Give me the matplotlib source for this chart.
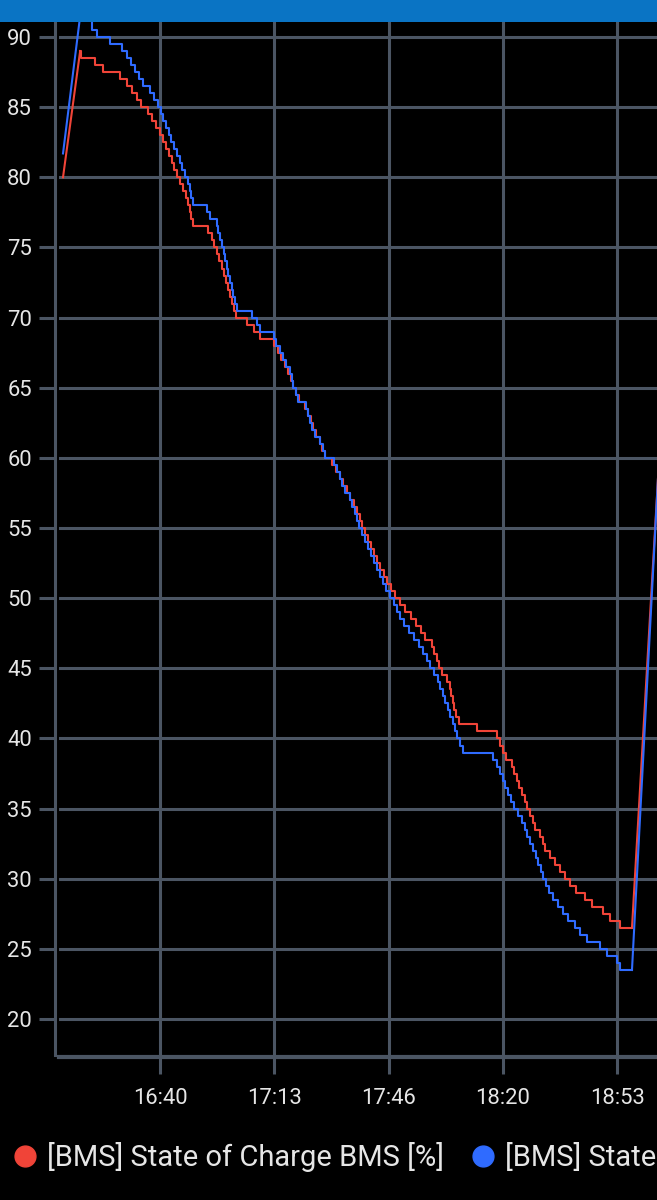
import numpy as np
import matplotlib
matplotlib.use("Agg")
import matplotlib.pyplot as plt
from matplotlib.lines import Line2D
from matplotlib.patches import Rectangle

# ---- data (time in minutes after 16:00, state of charge in %) ----
red_t = [11.7, 16.7, 17.0, 21.0, 23.4, 28.3, 30.4, 31.8, 33.3, 34.5,
         36.5, 37.7, 38.8, 40.0, 40.9, 41.8, 42.6, 43.5, 44.1, 45.0,
         45.8, 46.7, 47.6, 48.2, 48.8, 49.0, 49.6, 54.0, 55.2, 55.8,
         56.6, 57.2, 58.1, 58.7, 59.3, 59.8, 60.4, 61.0, 61.6, 62.2,
         65.4, 67.4, 69.2, 73.3, 74.4, 75.3, 76.5, 77.3, 78.2, 78.8,
         79.7, 80.6, 82.3, 83.2, 84.1, 84.6, 85.5, 86.7, 87.3, 88.1,
         90.2, 91.3, 92.5, 93.4, 94.6, 95.4, 96.6, 97.5, 98.4, 98.9,
         99.8, 100.7, 101.6, 102.4, 103.3, 104.2, 105.4, 106.2, 107.4, 108.6,
         110.0, 111.5, 113.2, 114.7, 116.1, 117.3, 119.4, 119.9, 120.8, 121.4,
         122.3, 123.7, 124.6, 124.9, 125.5, 125.8, 126.4, 127.2, 132.5, 138.3,
         139.2, 140.1, 141.0, 142.7, 143.3, 144.2, 144.7, 145.6, 146.5, 147.1,
         148.0, 148.8, 149.4, 150.9, 151.7, 152.3, 153.8, 155.2, 156.7, 158.2,
         159.6, 161.4, 164.0, 166.0, 169.3, 171.3, 174.2, 177.7, 185.3]
red_v = [80.0, 89.0, 88.5, 88.0, 87.5, 87.0, 86.5, 86.0, 85.5, 85.0,
         84.5, 84.0, 83.5, 83.0, 82.5, 82.0, 81.5, 81.0, 80.5, 80.0,
         79.5, 79.0, 78.5, 78.0, 77.5, 77.0, 76.5, 76.0, 75.5, 75.0,
         74.5, 74.0, 73.5, 73.0, 72.5, 72.0, 71.5, 71.0, 70.5, 70.0,
         69.5, 69.0, 68.5, 68.0, 67.5, 67.0, 66.5, 66.0, 65.5, 65.0,
         64.5, 64.0, 63.5, 63.0, 62.5, 62.0, 61.5, 61.0, 60.5, 60.0,
         59.5, 59.0, 58.5, 58.0, 57.5, 57.0, 56.5, 56.0, 55.5, 55.0,
         54.5, 54.0, 53.5, 53.0, 52.5, 52.0, 51.5, 51.0, 50.5, 50.0,
         49.5, 49.0, 48.5, 48.0, 47.5, 47.0, 46.5, 46.0, 45.5, 45.0,
         44.5, 44.0, 43.5, 43.0, 42.5, 42.0, 41.5, 41.0, 40.5, 40.0,
         39.5, 39.0, 38.5, 38.0, 37.5, 37.0, 36.5, 36.0, 35.5, 35.0,
         34.5, 34.0, 33.5, 33.0, 32.5, 32.0, 31.5, 31.0, 30.5, 30.0,
         29.5, 29.0, 28.5, 28.0, 27.5, 27.0, 26.5, 26.5, 58.6]

blue_t = [11.7, 16.7, 20.2, 21.6, 25.4, 28.9, 30.4, 31.5, 32.7, 33.9,
          35.0, 37.1, 38.2, 39.4, 40.3, 40.9, 41.8, 42.6, 43.2, 44.1,
          45.0, 45.8, 46.4, 47.3, 48.2, 48.8, 49.0, 49.6, 53.7, 54.6,
          56.6, 56.9, 57.5, 58.1, 58.7, 59.0, 59.5, 59.8, 60.4, 61.0,
          61.3, 61.9, 62.5, 66.8, 68.3, 69.2, 73.3, 73.8, 75.0, 75.9,
          76.8, 77.9, 78.5, 78.8, 79.7, 80.3, 82.6, 83.2, 83.8, 84.3,
          85.2, 86.7, 87.6, 88.1, 90.8, 91.6, 92.5, 93.1, 94.0, 95.4,
          96.0, 96.9, 97.5, 98.1, 98.9, 99.8, 100.7, 101.6, 102.4, 103.3,
          104.2, 105.1, 105.9, 107.1, 108.3, 109.1, 110.0, 111.2, 112.6, 114.1,
          115.6, 116.7, 117.9, 118.8, 119.9, 121.1, 121.7, 122.6, 123.2, 124.0,
          124.6, 125.5, 126.1, 126.7, 127.5, 128.4, 137.2, 138.3, 139.2, 140.1,
          140.7, 141.5, 142.4, 143.3, 144.5, 145.6, 146.5, 147.1, 148.0, 148.8,
          149.7, 150.3, 151.2, 151.7, 152.6, 153.5, 154.7, 156.1, 157.6, 159.0,
          161.1, 162.5, 164.6, 168.4, 170.4, 173.3, 174.2, 177.7, 185.3]
blue_v = [81.7, 91.5, 90.5, 90.0, 89.5, 89.0, 88.5, 88.0, 87.5, 87.0,
          86.5, 86.0, 85.5, 85.0, 84.5, 84.0, 83.5, 83.0, 82.5, 82.0,
          81.5, 81.0, 80.5, 80.0, 79.5, 79.0, 78.5, 78.0, 77.5, 77.0,
          76.5, 76.0, 75.5, 75.0, 74.5, 74.0, 73.5, 73.0, 72.5, 72.0,
          71.5, 71.0, 70.5, 70.0, 69.5, 69.0, 68.5, 68.0, 67.5, 67.0,
          66.5, 66.0, 65.5, 65.0, 64.5, 64.0, 63.5, 63.0, 62.5, 62.0,
          61.5, 61.0, 60.5, 60.0, 59.5, 59.0, 58.5, 58.0, 57.5, 57.0,
          56.5, 56.0, 55.5, 55.0, 54.5, 54.0, 53.5, 53.0, 52.5, 52.0,
          51.5, 51.0, 50.5, 50.0, 49.5, 49.0, 48.5, 48.0, 47.5, 47.0,
          46.5, 46.0, 45.5, 45.0, 44.5, 44.0, 43.5, 43.0, 42.5, 42.0,
          41.5, 41.0, 40.5, 40.0, 39.5, 39.0, 38.5, 38.0, 37.5, 37.0,
          36.5, 36.0, 35.5, 35.0, 34.5, 34.0, 33.5, 33.0, 32.5, 32.0,
          31.5, 31.0, 30.5, 30.0, 29.5, 29.0, 28.5, 28.0, 27.5, 27.0,
          26.5, 26.0, 25.5, 25.0, 24.5, 24.0, 23.5, 23.5, 58.6]

series_labels = ["[BMS] State of Charge BMS [%]", "[BMS] State of Charge [%]"]
x_tick_minutes = [40, 73.333, 106.667, 140, 173.333]
x_tick_labels = ["16:40", "17:13", "17:46", "18:20", "18:53"]
y_ticks = [20, 25, 30, 35, 40, 45, 50, 55, 60, 65, 70, 75, 80, 85, 90]

# ---- style ----
BG = "#000000"
GRID = "#4b5563"
TXT = "#e6e6e6"
RED = "#f04438"
BLUE = "#2f6bff"
BAR = "#0a74c4"
plt.rcParams["font.family"] = ["Roboto", "DejaVu Sans"]

W, H = 657, 1200
fig = plt.figure(figsize=(W / 100, H / 100), dpi=100, facecolor=BG)
ax = fig.add_axes([59 / W, (H - 1055) / H, (657 - 59) / W, (1055 - 22) / H], facecolor=BG)

ax.set_xlim(10.53, 185.0)
ax.set_ylim(17.44, 91.07)

ax.set_axisbelow(True)
ax.grid(True, color=GRID, linewidth=2.2)
for s in ("top", "right"):
    ax.spines[s].set_visible(False)
ax.spines["left"].set_color(GRID)
ax.spines["left"].set_linewidth(2.2)
ax.spines["left"].set_position(("outward", 3))
ax.spines["bottom"].set_color(GRID)
ax.spines["bottom"].set_linewidth(3.0)
ax.spines["bottom"].set_position(("outward", 1.5))

ax.set_xticks(x_tick_minutes)
ax.set_xticklabels(x_tick_labels)
ax.set_yticks(y_ticks)
ax.set_yticklabels([str(v) for v in y_ticks])
ax.tick_params(axis="both", colors=GRID, width=2.2, labelcolor=TXT, labelsize=15.8)
ax.tick_params(axis="y", length=11.5, pad=5)
ax.tick_params(axis="x", length=12, pad=10)


def draw_series(t, v, color):
    ax.plot(t[:2], v[:2], color=color, lw=1.5, zorder=3)
    ax.step(t[1:-1], v[1:-1], where="post", color=color, lw=1.5, zorder=3)
    ax.plot(t[-2:], v[-2:], color=color, lw=1.5, zorder=3)


draw_series(red_t, red_v, RED)
draw_series(blue_t, blue_v, BLUE)

# top app bar
fig.patches.append(Rectangle((0, (H - 22) / H), 1, 22 / H, transform=fig.transFigure,
                             facecolor=BAR, edgecolor="none", zorder=10))

handles = [Line2D([], [], marker="o", ls="", color=RED, markersize=15),
           Line2D([], [], marker="o", ls="", color=BLUE, markersize=15)]
fig.legend(handles, series_labels, loc="center left", bbox_to_anchor=(15 / W, 1 - 1157 / H),
           ncol=2, frameon=False, fontsize=21, labelcolor=TXT, handletextpad=0.4,
           columnspacing=1.0, handlelength=0.7, borderaxespad=0, borderpad=0)

fig.savefig("out.png", dpi=100, facecolor=BG)
